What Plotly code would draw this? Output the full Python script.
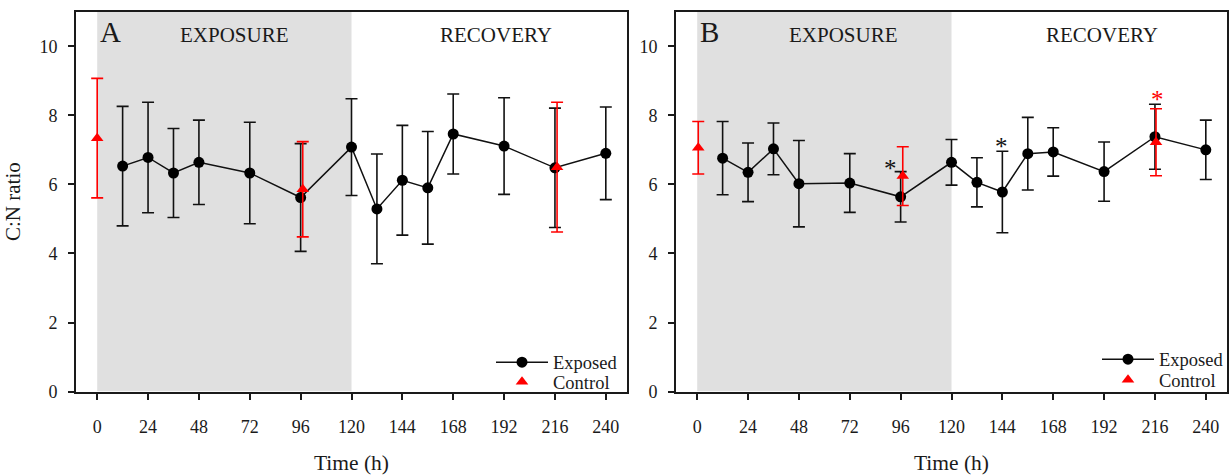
import plotly.graph_objects as go

# ---------------- data ----------------
time_exp = [12, 24, 36, 48, 72, 96, 120, 132, 144, 156, 168, 192, 216, 240]

a_exp_mean = [6.53, 6.78, 6.33, 6.64, 6.33, 5.62, 7.08, 5.29, 6.12, 5.90, 7.46, 7.11, 6.48, 6.90]
a_exp_err = [1.73, 1.60, 1.29, 1.22, 1.47, 1.56, 1.40, 1.59, 1.59, 1.63, 1.16, 1.40, 1.73, 1.34]
a_ctl_time = [0, 97, 217]
a_ctl_mean = [7.34, 5.86, 6.50]
a_ctl_err = [1.73, 1.38, 1.88]

b_exp_mean = [6.76, 6.35, 7.03, 6.02, 6.04, 5.64, 6.64, 6.06, 5.78, 6.89, 6.94, 6.37, 7.38, 7.00]
b_exp_err = [1.06, 0.85, 0.75, 1.25, 0.85, 0.73, 0.66, 0.71, 1.18, 1.05, 0.70, 0.86, 0.94, 0.86]
b_ctl_time = [0.5, 97, 216.5]
b_ctl_mean = [7.06, 6.24, 7.22]
b_ctl_err = [0.76, 0.85, 0.97]

# significance markers for panel B: (time, y, colour)
b_star_time = [91, 143.5, 217]
b_star_y = [6.67, 7.31, 8.65]
b_star_color = ["#111111", "#111111", "#ff0000"]

exposure_period = [0, 120]
x_ticks = [0, 24, 48, 72, 96, 120, 144, 168, 192, 216, 240]
y_ticks = [0, 2, 4, 6, 8, 10]
x_range = [-10, 250]
y_range = [0, 11]

FONT = "Liberation Serif"
INK = "#1a1a1a"
W, H = 1230, 475

fig = go.Figure()

panels = [
    ("x", "y", a_exp_mean, a_exp_err, a_ctl_time, a_ctl_mean, a_ctl_err, "legend", "legend2"),
    ("x2", "y2", b_exp_mean, b_exp_err, b_ctl_time, b_ctl_mean, b_ctl_err, "legend3", "legend4"),
]
for xa, ya, em, ee, ct, cm, ce, lg_e, lg_c in panels:
    fig.add_trace(go.Scatter(
        x=time_exp, y=em, xaxis=xa, yaxis=ya, mode="lines+markers", name="Exposed",
        line=dict(color="#111111", width=1.5),
        marker=dict(color="#000000", size=11, symbol="circle"),
        error_y=dict(type="data", array=ee, visible=True, color="#111111", thickness=1.6, width=6),
        legend=lg_e,
    ))
    fig.add_trace(go.Scatter(
        x=ct, y=cm, xaxis=xa, yaxis=ya, mode="markers", name="Control",
        marker=dict(color="#ff0000", size=11, symbol="triangle-up"),
        error_y=dict(type="data", array=ce, visible=True, color="#ff0000", thickness=1.6, width=6),
        legend=lg_c,
    ))

shapes = []
for xr, yr in [("x", "y"), ("x2", "y2")]:
    shapes.append(dict(type="rect", xref=xr, yref=yr, x0=exposure_period[0], x1=exposure_period[1],
                       y0=y_range[0], y1=y_range[1], fillcolor="#e0e0e0", line=dict(width=0),
                       layer="below"))

annotations = []
for xr, yr, letter, ex_x, rec_x in [("x", "y", "A", 65, 188), ("x2", "y2", "B", 69, 191)]:
    annotations.append(dict(xref=xr, yref=yr, x=0.5, y=10.42, text=letter, showarrow=False,
                            xanchor="left", yanchor="middle", font=dict(family=FONT, size=29, color=INK)))
    annotations.append(dict(xref=xr, yref=yr, x=ex_x, y=10.34, text="EXPOSURE", showarrow=False,
                            xanchor="center", yanchor="middle", font=dict(family=FONT, size=21, color=INK)))
    annotations.append(dict(xref=xr, yref=yr, x=rec_x, y=10.34, text="RECOVERY", showarrow=False,
                            xanchor="center", yanchor="middle", font=dict(family=FONT, size=21, color=INK)))
for t, v, c in zip(b_star_time, b_star_y, b_star_color):
    annotations.append(dict(xref="x2", yref="y2", x=t, y=v, text="*", showarrow=False, yshift=-7,
                            xanchor="center", yanchor="middle", font=dict(family=FONT, size=25, color=c)))

y_dom = [75 / H, 463 / H]

def xaxis(dom, anchor):
    return dict(domain=dom, anchor=anchor, range=x_range, tickvals=x_ticks, ticks="outside",
                ticklen=6, tickwidth=1.5, tickcolor=INK, showline=True, linecolor=INK, linewidth=2,
                mirror=True, showgrid=False, zeroline=False, ticklabelstandoff=12,
                tickfont=dict(family=FONT, size=18, color=INK),
                title=dict(text="Time (h)", font=dict(family=FONT, size=21.5, color=INK), standoff=19))

def yaxis(anchor, title):
    return dict(domain=y_dom, anchor=anchor, range=y_range, tickvals=y_ticks, ticks="outside",
                ticklen=6, tickwidth=1.5, tickcolor=INK, showline=True, linecolor=INK, linewidth=2,
                mirror=True, showgrid=False, zeroline=False, ticklabelstandoff=7,
                tickfont=dict(family=FONT, size=18, color=INK),
                title=dict(text=title, font=dict(family=FONT, size=21, color=INK), standoff=13))

def leg(x_px, top_px):
    return dict(x=x_px / W, y=1 - top_px / H, bgcolor="rgba(0,0,0,0)", xanchor="left", yanchor="top",
                tracegroupgap=0, font=dict(family=FONT, size=18.5, color=INK), itemwidth=52)

fig.update_layout(
    width=W, height=H, margin=dict(l=0, r=0, t=0, b=0),
    paper_bgcolor="white", plot_bgcolor="white",
    xaxis=xaxis([76 / W, 627 / W], "y"),
    yaxis=yaxis("x", "C:N ratio"),
    xaxis2=xaxis([676 / W, 1227 / W], "y2"),
    yaxis2=yaxis("x2", ""),
    shapes=shapes, annotations=annotations,
    legend=leg(491, 351),
    legend2=leg(491, 371),
    legend3=leg(1097, 348),
    legend4=leg(1097, 369),
    showlegend=True,
)

fig.write_html("out.html")
